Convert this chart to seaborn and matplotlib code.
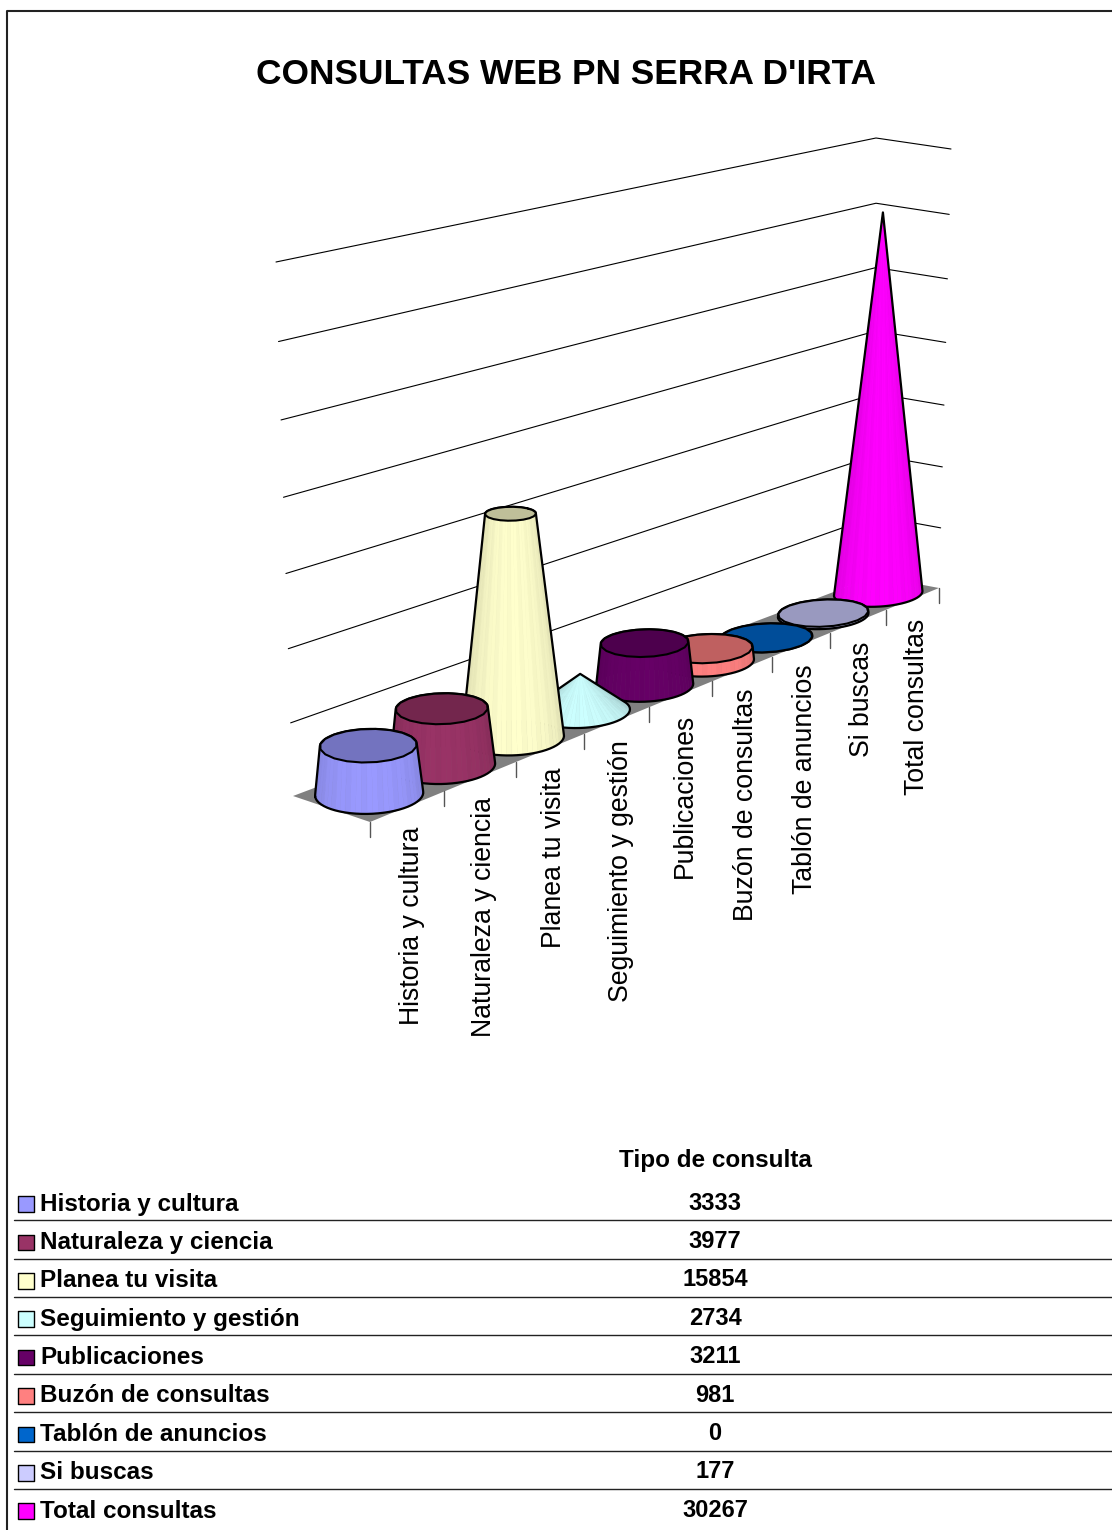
import numpy as np
import pandas as pd
import matplotlib
matplotlib.use("Agg")
import matplotlib.pyplot as plt
import seaborn as sns

categories = ["Historia y cultura", "Naturaleza y ciencia", "Planea tu visita",
              "Seguimiento y gestión", "Publicaciones", "Buzón de consultas",
              "Tablón de anuncios", "Si buscas", "Total consultas"]
values = [3333, 3977, 15854, 2734, 3211, 981, 0, 177, 30267]
colors = ["#9999FF", "#993366", "#FFFFCC", "#CCFFFF", "#660066",
          "#FF8080", "#0066CC", "#CCCCFF", "#FF00FF"]
pointed = ["Seguimiento y gestión"]
grid_levels = [5000, 10000, 15000, 20000, 25000, 30000, 35000]
axis_max = 35000

# corners of the 3d box in picture pixels: (front/back, left/right, floor/top)
FL0, FR0, BL0, BR0 = (370, 822), (939, 588), (293, 796), (876, 576)
FL1, FR1, BL1, BR1 = (364, 278), (951, 149), (276, 262), (876, 138)


def persp(u, k):
    return u / (u + k * (1 - u))


def project(cat, depth, val):
    # cat in 0..n categories, depth 0 front..1 back
    cat, depth, val = np.asarray(cat, float), np.asarray(depth, float), np.asarray(val, float)
    t = persp(cat / len(categories), 0.83)
    v = persp(val / axis_max, 1.05)
    out = []
    for c in range(2):
        floor = (1 - depth) * ((1 - t) * FL0[c] + t * FR0[c]) + depth * ((1 - t) * BL0[c] + t * BR0[c])
        top = (1 - depth) * ((1 - t) * FL1[c] + t * FR1[c]) + depth * ((1 - t) * BL1[c] + t * BR1[c])
        out.append((1 - v) * floor + v * top)
    return out[0], out[1]


def hull(pts):
    pts = sorted(set(map(tuple, np.round(pts, 2))))
    def half(seq):
        h = []
        for p in seq:
            while len(h) > 1:
                a, b = h[-2], h[-1]
                if (b[0] - a[0]) * (p[1] - a[1]) - (b[1] - a[1]) * (p[0] - a[0]) > 0:
                    break
                h.pop()
            h.append(p)
        return h[:-1]
    return np.array(half(pts) + half(pts[::-1]))


def draw_cone(ax, pos, val, color, apex, z):
    n = 60
    r = 0.505 + 0.003 * pos
    centre = pos + 0.5 - 0.005 * pos
    ang = np.linspace(0, 2 * np.pi, n + 1)
    ratio = 0.0 if apex else 1 - val / max(values)
    base_x, base_y = project(centre + r * np.cos(ang), 0.5 + r * np.sin(ang), 0)
    top_x, top_y = project(centre + r * ratio * np.cos(ang), 0.5 + r * ratio * np.sin(ang), val)
    rgb = np.array(matplotlib.colors.to_rgb(color))

    if val > 0:
        facets = []
        for i in range(n):
            mid = (ang[i] + ang[i + 1]) / 2
            # brightest on the side turned to the viewer
            facing = np.cos(mid - np.radians(225))
            shade = 0.84 + 0.16 * max(facing, 0) ** 0.8
            if i % 3 == 0:
                shade *= 0.98
            facets.append((base_y[i] + base_y[i + 1], i, shade))
        for _, i, shade in sorted(facets):
            ax.fill([base_x[i], base_x[i + 1], top_x[i + 1], top_x[i]],
                    [base_y[i], base_y[i + 1], top_y[i + 1], top_y[i]],
                    color=np.clip(rgb * shade, 0, 1), lw=0.4, zorder=z)
    pts = np.column_stack([np.r_[base_x, top_x], np.r_[base_y, top_y]])
    outline = hull(pts)
    ax.plot(np.r_[outline[:, 0], outline[0, 0]], np.r_[outline[:, 1], outline[0, 1]],
            color="black", lw=1.6, zorder=z + 0.1, solid_joinstyle="round")
    if not apex:
        ax.fill(top_x[::3], top_y[::3], facecolor=rgb * 0.75, edgecolor="black", lw=1.5, zorder=z + 0.2)


sns.set_theme(style="white")
plt.rcParams["font.family"] = ["Liberation Sans", "DejaVu Sans"]
plt.rcParams["text.color"] = "black"

fig = plt.figure(figsize=(11.12, 15.30), dpi=100)
ax = fig.add_axes([0, 0, 1, 1])
ax.set_xlim(0, 1112)
ax.set_ylim(1530, 0)
ax.axis("off")

# chart border, open on the right and bottom
ax.plot([6.5, 6.5, 1112], [1530, 10.5, 10.5], color="#222222", lw=1.5)

ax.text(566, 74, "CONSULTAS WEB PN SERRA D'IRTA", ha="center", va="center",
        fontsize=25.4, fontweight="bold", color="black")

# walls: one path per gridline, along the back wall then the side wall
n_cat = len(categories)
rows = []
for lev in grid_levels:
    for cat, depth in [(0, 1), (n_cat, 1), (n_cat, 0)]:
        x, y = project(cat, depth, lev)
        rows.append({"level": lev, "x": float(x), "y": float(y)})
grid_df = pd.DataFrame(rows)
sns.lineplot(data=grid_df, x="x", y="y", units="level", estimator=None, sort=False,
             color="black", lw=0.8, ax=ax, legend=False, zorder=1)

# floor
fx, fy = project([0, n_cat, n_cat, 0], [0, 0, 1, 1], [0, 0, 0, 0])
ax.fill(fx, fy, color="#808080", lw=0, zorder=2)

# ticks and category labels on the front edge
tick_x, tick_y = project(np.arange(n_cat + 1), np.zeros(n_cat + 1), np.zeros(n_cat + 1))
for x, y in zip(tick_x, tick_y):
    ax.plot([x, x], [y, y + 15], color="#555555", lw=1, zorder=2)
lab_x, lab_y = project(np.arange(n_cat) + 0.5, np.zeros(n_cat), np.zeros(n_cat))
for x, y, name in zip(lab_x, lab_y, categories):
    ax.text(x + 4, y + 20, name, rotation=90, ha="center", va="top", fontsize=19.2, color="black")

for pos in range(n_cat - 1, -1, -1):
    draw_cone(ax, pos, values[pos], colors[pos], categories[pos] in pointed, 3 + (n_cat - pos))

# data table below the chart
row_y = 1203 + 38.4 * np.arange(n_cat)
ax.text(715, 1161, "Tipo de consulta", ha="center", va="center", fontsize=17.5, fontweight="bold")
for i, (name, val) in enumerate(zip(categories, values)):
    ax.text(40, row_y[i] + 1, name, ha="left", va="center", fontsize=17.5, fontweight="bold")
    ax.text(715, row_y[i], str(val), ha="center", va="center", fontsize=17, fontweight="bold")
    if i < n_cat - 1:
        ax.plot([14, 1112], [row_y[i] + 17.2] * 2, color="#222222", lw=1)

legend_df = pd.DataFrame({"name": categories, "x": 26.0, "y": row_y + 1})
sns.scatterplot(data=legend_df, x="x", y="y", hue="name", palette=colors, marker="s", s=125,
                edgecolor="black", linewidth=1, ax=ax, legend=False, zorder=20)
ax.set_xlim(0, 1112)
ax.set_ylim(1530, 0)
ax.axis("off")

fig.savefig("out.png", dpi=100)
